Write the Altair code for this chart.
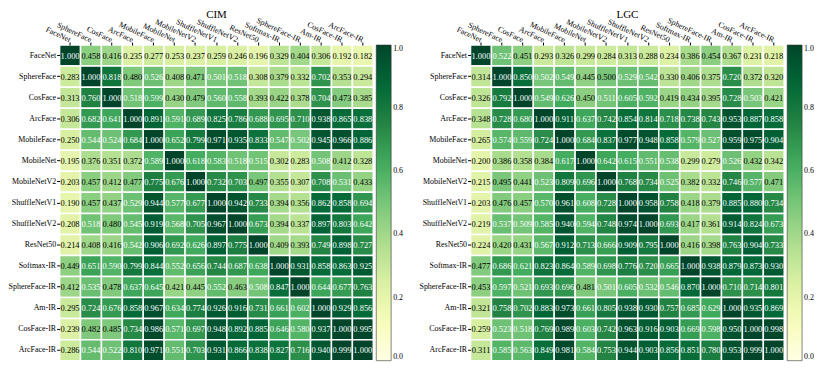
import altair as alt
import pandas as pd

models = ["FaceNet", "SphereFace", "CosFace", "ArcFace", "MobileFace", "MobileNet",
          "MobileNetV2", "ShuffleNetV1", "ShuffleNetV2", "ResNet50", "Softmax-IR",
          "SphereFace-IR", "Am-IR", "CosFace-IR", "ArcFace-IR"]

cim_values = [
    [1.000, 0.458, 0.416, 0.235, 0.277, 0.253, 0.237, 0.259, 0.246, 0.196, 0.329, 0.404, 0.306, 0.192, 0.182],
    [0.283, 1.000, 0.818, 0.480, 0.526, 0.408, 0.471, 0.501, 0.518, 0.308, 0.379, 0.332, 0.702, 0.353, 0.294],
    [0.313, 0.760, 1.000, 0.518, 0.599, 0.430, 0.479, 0.560, 0.558, 0.393, 0.422, 0.378, 0.704, 0.473, 0.385],
    [0.306, 0.682, 0.641, 1.000, 0.891, 0.591, 0.689, 0.825, 0.786, 0.688, 0.695, 0.710, 0.938, 0.865, 0.838],
    [0.250, 0.544, 0.524, 0.684, 1.000, 0.652, 0.799, 0.971, 0.935, 0.833, 0.547, 0.502, 0.945, 0.966, 0.886],
    [0.195, 0.376, 0.351, 0.372, 0.589, 1.000, 0.618, 0.583, 0.518, 0.515, 0.302, 0.283, 0.508, 0.412, 0.328],
    [0.203, 0.457, 0.412, 0.477, 0.775, 0.676, 1.000, 0.732, 0.703, 0.497, 0.355, 0.307, 0.708, 0.531, 0.433],
    [0.190, 0.457, 0.437, 0.529, 0.944, 0.577, 0.677, 1.000, 0.942, 0.733, 0.394, 0.356, 0.862, 0.858, 0.694],
    [0.208, 0.518, 0.480, 0.545, 0.919, 0.568, 0.705, 0.967, 1.000, 0.673, 0.394, 0.337, 0.897, 0.803, 0.642],
    [0.214, 0.408, 0.416, 0.542, 0.906, 0.692, 0.626, 0.897, 0.775, 1.000, 0.409, 0.393, 0.749, 0.898, 0.727],
    [0.449, 0.651, 0.590, 0.799, 0.844, 0.552, 0.656, 0.744, 0.687, 0.638, 1.000, 0.931, 0.858, 0.863, 0.925],
    [0.412, 0.535, 0.478, 0.637, 0.645, 0.421, 0.445, 0.552, 0.463, 0.508, 0.847, 1.000, 0.644, 0.677, 0.763],
    [0.295, 0.724, 0.676, 0.858, 0.967, 0.634, 0.774, 0.926, 0.916, 0.731, 0.661, 0.602, 1.000, 0.929, 0.856],
    [0.239, 0.482, 0.485, 0.734, 0.986, 0.571, 0.697, 0.948, 0.892, 0.885, 0.646, 0.580, 0.937, 1.000, 0.995],
    [0.286, 0.544, 0.522, 0.810, 0.971, 0.551, 0.703, 0.931, 0.866, 0.838, 0.827, 0.716, 0.940, 0.999, 1.000],
]

lgc_values = [
    [1.000, 0.522, 0.451, 0.293, 0.326, 0.299, 0.284, 0.313, 0.288, 0.234, 0.386, 0.454, 0.367, 0.231, 0.218],
    [0.314, 1.000, 0.850, 0.502, 0.549, 0.445, 0.500, 0.529, 0.542, 0.330, 0.406, 0.375, 0.720, 0.372, 0.320],
    [0.326, 0.792, 1.000, 0.549, 0.626, 0.450, 0.511, 0.605, 0.592, 0.419, 0.434, 0.395, 0.728, 0.503, 0.421],
    [0.348, 0.728, 0.680, 1.000, 0.911, 0.637, 0.742, 0.854, 0.814, 0.718, 0.738, 0.743, 0.953, 0.887, 0.858],
    [0.265, 0.574, 0.559, 0.724, 1.000, 0.684, 0.837, 0.977, 0.948, 0.858, 0.579, 0.527, 0.959, 0.975, 0.904],
    [0.200, 0.386, 0.358, 0.384, 0.617, 1.000, 0.642, 0.615, 0.551, 0.538, 0.299, 0.279, 0.526, 0.432, 0.342],
    [0.215, 0.495, 0.441, 0.523, 0.809, 0.696, 1.000, 0.768, 0.734, 0.525, 0.382, 0.332, 0.746, 0.577, 0.471],
    [0.203, 0.476, 0.457, 0.570, 0.961, 0.608, 0.728, 1.000, 0.958, 0.758, 0.418, 0.379, 0.885, 0.880, 0.734],
    [0.219, 0.537, 0.509, 0.585, 0.940, 0.594, 0.748, 0.974, 1.000, 0.693, 0.417, 0.361, 0.914, 0.824, 0.673],
    [0.224, 0.420, 0.431, 0.567, 0.912, 0.713, 0.666, 0.909, 0.795, 1.000, 0.416, 0.398, 0.763, 0.904, 0.733],
    [0.477, 0.686, 0.621, 0.823, 0.864, 0.589, 0.698, 0.776, 0.720, 0.665, 1.000, 0.938, 0.879, 0.873, 0.930],
    [0.453, 0.597, 0.521, 0.693, 0.696, 0.481, 0.501, 0.605, 0.532, 0.546, 0.870, 1.000, 0.710, 0.714, 0.801],
    [0.321, 0.758, 0.702, 0.883, 0.973, 0.661, 0.805, 0.938, 0.930, 0.757, 0.685, 0.629, 1.000, 0.935, 0.869],
    [0.259, 0.523, 0.518, 0.769, 0.989, 0.603, 0.742, 0.963, 0.916, 0.903, 0.669, 0.598, 0.950, 1.000, 0.998],
    [0.311, 0.585, 0.563, 0.849, 0.981, 0.584, 0.753, 0.944, 0.903, 0.856, 0.851, 0.780, 0.953, 0.999, 1.000],
]

legend_ticks = [0.0, 0.2, 0.4, 0.6, 0.8, 1.0]
# YlGn colour map stops
cmap_stops = [0.0, 0.125, 0.25, 0.375, 0.5, 0.625, 0.75, 0.875, 1.0]
cmap_colors = ["#ffffe5", "#f7fcb9", "#d9f0a3", "#addd8e", "#78c679",
               "#41ab5d", "#238443", "#006837", "#004529"]
FONT = "Liberation Serif"


def heat(values, title):
    rows = []
    for i, r in enumerate(models):
        for j, c in enumerate(models):
            rows.append({"row": r, "col": c, "v": values[i][j]})
    df = pd.DataFrame(rows)
    base = alt.Chart(df).encode(
        x=alt.X("col:N", sort=models, title=None,
                axis=alt.Axis(orient="top", labelAngle=25, labelAlign="right",
                              labelBaseline="middle", tickSize=3, domain=False,
                              labelFont=FONT, labelFontSize=8, labelPadding=2,
                              tickColor="black", labelColor="black")),
        y=alt.Y("row:N", sort=models, title=None,
                axis=alt.Axis(tickSize=3, domain=False, labelFont=FONT,
                              labelFontSize=8, labelPadding=1,
                              tickColor="black", labelColor="black")),
    )
    rect = base.mark_rect(stroke="white", strokeWidth=1.5).encode(
        color=alt.Color("v:Q",
                        scale=alt.Scale(domain=cmap_stops, range=cmap_colors,
                                        interpolate="rgb"),
                        legend=alt.Legend(title=None, values=legend_ticks, format=".1f",
                                          gradientLength=318, gradientThickness=15,
                                          offset=3, labelFont=FONT, labelFontSize=8,
                                          gradientStrokeColor="#333",
                                          gradientStrokeWidth=0.6,
                                          labelColor="black"))
    )
    text = base.mark_text(font=FONT, fontSize=8.5).encode(
        text=alt.Text("v:Q", format=".3f"),
        color=alt.condition("datum.v > 0.5", alt.value("white"), alt.value("black")),
    )
    return alt.layer(rect, text).properties(
        width=316, height=318,
        title=alt.TitleParams(title, font=FONT, fontSize=11, fontWeight="normal",
                              anchor="middle", color="black", offset=-4),
    )


chart = alt.hconcat(heat(cim_values, "CIM"), heat(lgc_values, "LGC"), spacing=16).resolve_scale(
    color="independent"
).properties(padding={"left": 0, "top": 0, "right": 0, "bottom": 0}).configure_view(stroke=None)

chart.save("out.html", embed_options={"renderer": "svg", "actions": False})
